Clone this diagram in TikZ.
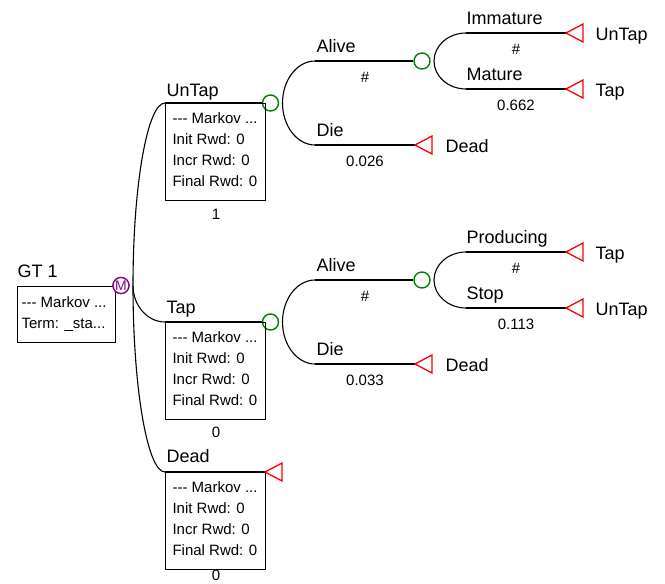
\documentclass[tikz,border=0pt]{standalone}
\usepackage{fontspec}
\setmainfont{Liberation Sans}
\usetikzlibrary{calc}
\definecolor{chancegreen}{RGB}{0,128,0}
\definecolor{termred}{RGB}{255,0,0}
\definecolor{markovpurple}{RGB}{140,0,140}
\newcommand{\lblfont}{\fontsize{18}{20}\selectfont}
\newcommand{\smallfont}{\fontsize{15}{21}\selectfont}

\begin{document}
\begin{tikzpicture}[x=1pt,y=-1pt,font=\lblfont,line width=1.1pt,
  lbl/.style={anchor=base west,inner sep=0},
  prob/.style={anchor=base,inner sep=0,font=\smallfont},
  boxtxt/.style={anchor=north west,align=left,inner sep=0,font=\smallfont},
  mbox/.style={draw,anchor=north west,inner sep=0,minimum width=100,minimum height=97},
  chance/.style={circle,draw=chancegreen,fill=white,line width=1.4pt,minimum size=16,inner sep=0},
  markov/.style={circle,draw=markovpurple,text=markovpurple,fill=white,line width=1.3pt,minimum size=16,inner sep=0,font=\fontsize{14}{14}\selectfont},
  term/.style={draw=termred,line width=1.3pt,line join=miter},
  arcbranch/.style={to path={.. controls ($(\tikztostart)!.55!(\tikztostart|-\tikztotarget)$) and ($(\tikztotarget)!.55!(\tikztostart|-\tikztotarget)$) .. (\tikztotarget)}}]
\useasboundingbox (0,0) rectangle (665,584);

\node[markov] (m0) at (121,285.5) {M};
\coordinate (gt) at (17,285.5);
\coordinate (s0) at (133,285.5);
\coordinate (b1) at (165,103);
\coordinate (b2) at (165,322);
\coordinate (b3) at (165,472);
\node[chance] (c1) at (270.5,103) {};
\node[chance] (c2) at (270.5,322) {};
\coordinate (t0) at (265,472);

\coordinate (s1) at (282.5,103);
\coordinate (a1) at (315,61);
\coordinate (d1) at (315,145);
\node[chance] (c3) at (422,61) {};
\coordinate (t1) at (415,145);
\coordinate (s3) at (434,61);
\coordinate (i1) at (466,33);
\coordinate (m1) at (466,89);
\coordinate (t3) at (566,33);
\coordinate (t4) at (566,89);

\coordinate (s2) at (282.5,322);
\coordinate (a2) at (315,280);
\coordinate (d2) at (315,364);
\node[chance] (c4) at (422,280) {};
\coordinate (t2) at (415,364);
\coordinate (s4) at (434,280);
\coordinate (p1) at (466,252);
\coordinate (st1) at (466,308);
\coordinate (t5) at (566,252);
\coordinate (t6) at (566,308);

\draw (s0) to[arcbranch] (b1);
\draw (s0) to[arcbranch] (b2);
\draw (s0) to[arcbranch] (b3);
\draw (b1) -- (c1.west);
\draw (b2) -- (c2.west);
\draw (b3) -- (t0);
\draw (s1) to[arcbranch] (a1);
\draw (s1) to[arcbranch] (d1);
\draw (a1) -- (c3.west);
\draw (d1) -- (t1);
\draw (s3) to[arcbranch] (i1);
\draw (s3) to[arcbranch] (m1);
\draw (i1) -- (t3);
\draw (m1) -- (t4);
\draw (s2) to[arcbranch] (a2);
\draw (s2) to[arcbranch] (d2);
\draw (a2) -- (c4.west);
\draw (d2) -- (t2);
\draw (s4) to[arcbranch] (p1);
\draw (s4) to[arcbranch] (st1);
\draw (p1) -- (t5);
\draw (st1) -- (t6);

\node[lbl] (gtlbl) at (17,277) {GT 1};
\node[mbox,minimum width=98,minimum height=56] (gtbox) at (gt) {};
\node[boxtxt] (gttxt) at (21,296) {-{}-{}- Markov ...\\Term: \_sta...};
\node[markov] (m0top) at (m0) {M};

\node[lbl] (untaplbl) at (166,96) {UnTap};
\node[mbox] (untapbox) at (b1) {};
\node[boxtxt] (untaptxt) at (172,112) {-{}-{}- Markov ...\\Init Rwd: 0\\Incr Rwd: 0\\Final Rwd: 0};
\node[prob] (untapp) at (216,219) {1};

\node[lbl] (taplbl) at (166,313) {Tap};
\node[mbox] (tapbox) at (b2) {};
\node[boxtxt] (taptxt) at (172,331) {-{}-{}- Markov ...\\Init Rwd: 0\\Incr Rwd: 0\\Final Rwd: 0};
\node[prob] (tapp) at (216,437) {0};

\node[lbl] (deadlbl) at (166,462) {Dead};
\node[mbox] (deadbox) at (b3) {};
\node[boxtxt] (deadtxt) at (172,481) {-{}-{}- Markov ...\\Init Rwd: 0\\Incr Rwd: 0\\Final Rwd: 0};
\node[prob] (deadp) at (216,580) {0};
\draw[term] (t0) -- ++(17,-9) -- ++(0,18) -- cycle;

\node[lbl] (alive1) at (316,52) {Alive};
\node[prob] (alive1p) at (365,82) {\#};
\node[lbl] (die1) at (316,136) {Die};
\node[prob] (die1p) at (365,166) {0.026};
\draw[term] (t1) -- ++(17,-9) -- ++(0,18) -- cycle;
\node[lbl] (dead1) at (445,152) {Dead};
\node[lbl] (immlbl) at (466,24) {Immature};
\node[prob] (immp) at (516,54) {\#};
\node[lbl] (matlbl) at (466,80) {Mature};
\node[prob] (matp) at (516,110) {0.662};
\draw[term] (t3) -- ++(17,-9) -- ++(0,18) -- cycle;
\draw[term] (t4) -- ++(17,-9) -- ++(0,18) -- cycle;
\node[lbl] (untap3) at (595,40) {UnTap};
\node[lbl] (tap4) at (595,96) {Tap};

\node[lbl] (alive2) at (316,271) {Alive};
\node[prob] (alive2p) at (365,301) {\#};
\node[lbl] (die2) at (316,355) {Die};
\node[prob] (die2p) at (365,385) {0.033};
\draw[term] (t2) -- ++(17,-9) -- ++(0,18) -- cycle;
\node[lbl] (dead2) at (445,371) {Dead};
\node[lbl] (prodlbl) at (466,243) {Producing};
\node[prob] (prodp) at (516,273) {\#};
\node[lbl] (stoplbl) at (466,299) {Stop};
\node[prob] (stopp) at (516,329) {0.113};
\draw[term] (t5) -- ++(17,-9) -- ++(0,18) -- cycle;
\draw[term] (t6) -- ++(17,-9) -- ++(0,18) -- cycle;
\node[lbl] (tap5) at (595,259) {Tap};
\node[lbl] (untap6) at (595,315) {UnTap};
\end{tikzpicture}
\end{document}
